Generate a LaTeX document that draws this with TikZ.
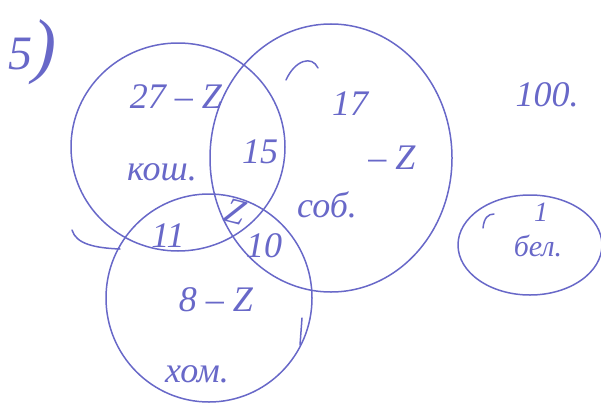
\documentclass[tikz,border=0pt]{standalone}
\usepackage{fontspec}
\setmainfont{Liberation Serif}
\definecolor{ink}{RGB}{104,104,200}
\begin{document}
\begin{tikzpicture}[x=1pt, y=-1pt, line join=round, line cap=round, line width=1.5pt, draw=ink,
	lbl/.style={text=ink, font=\fontsize{36}{38}\selectfont\itshape, inner sep=0pt},
	big/.style={text=ink, font=\fontsize{48}{50}\selectfont\itshape, inner sep=0pt}]
	\useasboundingbox (0,0) rectangle (601,404);
	% sets
	\draw (178,147) ellipse [x radius=107, y radius=104];
	\draw (331,158) ellipse [x radius=121, y radius=134];
	\draw (209,298) ellipse [x radius=103, y radius=104];
	\draw (530,245) ellipse [x radius=72, y radius=50];
	% pen hooks
	\draw (286,80) .. controls (295,60) and (312,55) .. (318,68);
	\draw (120,249) .. controls (95,248) and (76,244) .. (72,230);
	\draw (300,345) -- (302,318);
	\draw (483,228) .. controls (484,218) and (488,214) .. (494,214);
	% labels
	\path (32,52) node[big] (num) {5{\fontsize{72}{72}\selectfont)}};
	\path (176,97) node[lbl] (ka) {27 -- Z};
	\path (162,172) node[lbl] (kosh) {кош.};
	\path (260,152) node[lbl] (ab) {15};
	\path (235,212) node[lbl, rotate=-15] (abc) {Z};
	\path (168,236) node[lbl] (ac) {11};
	\path (264,246) node[lbl] (bc) {10};
	\path (327,205) node[lbl] (sob) {соб.};
	\path (350,104) node[lbl] (kb) {17};
	\path (392,158) node[lbl] (kbz) {-- Z};
	\path (216,300) node[lbl] (kc) {8 -- Z};
	\path (197,374) node[lbl] (hom) {хом.};
	\path (547,95) node[lbl] (all) {100.};
	\path (541,212) node[lbl, font=\fontsize{28}{30}\selectfont\itshape] (one) {1};
	\path (538,246) node[lbl, font=\fontsize{30}{32}\selectfont\itshape] (bel) {бел.};
\end{tikzpicture}
\end{document}
